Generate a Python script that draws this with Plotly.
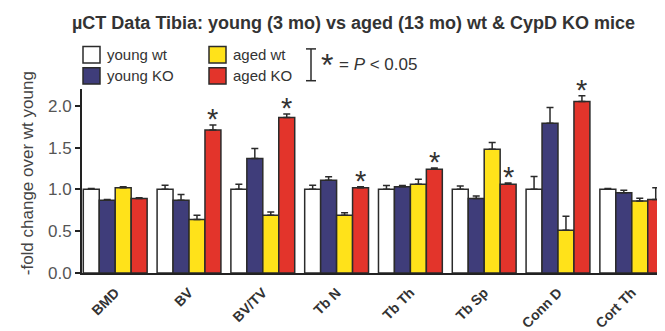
import plotly.graph_objects as go

# values (fold change over wt young, upper SEM only)
categories = ["BMD", "BV", "BV/TV", "Tb N", "Tb Th", "Tb Sp", "Conn D", "Cort Th"]
series_names = ["young wt", "young KO", "aged wt", "aged KO"]

young_wt = [1.00, 1.00, 1.00, 1.00, 1.00, 1.00, 1.00, 1.00]
young_ko = [0.87, 0.87, 1.37, 1.11, 1.03, 0.89, 1.79, 0.96]
aged_wt = [1.02, 0.64, 0.69, 0.69, 1.06, 1.48, 0.51, 0.86]
aged_ko = [0.89, 1.71, 1.86, 1.02, 1.24, 1.06, 2.05, 0.88]

young_wt_err = [0.01, 0.05, 0.06, 0.05, 0.045, 0.04, 0.155, 0.01]
young_ko_err = [0.01, 0.07, 0.12, 0.04, 0.015, 0.03, 0.19, 0.03]
aged_wt_err = [0.01, 0.05, 0.04, 0.03, 0.06, 0.08, 0.17, 0.035]
aged_ko_err = [0.01, 0.06, 0.04, 0.01, 0.015, 0.015, 0.07, 0.14]

# categories where aged KO differs (p < 0.05)
significant = ["BV", "BV/TV", "Tb N", "Tb Th", "Tb Sp", "Conn D"]

colours = ["#ffffff", "#3f3d7a", "#ffe21a", "#e3342b"]
FONT = "Liberation Sans, Arial, sans-serif"
TXT = "#333333"

# the page body has an 8px margin, so size the figure to fit the window
OFF = 8
W, H = 665 - OFF, 331 - OFF
L, R, T, B = 82 - OFF, 0, 88.6 - OFF, 331 - 279.5
PW, PH = W - L - R, H - T - B
XR = [-0.45, 7.45]
YR = [0, 2.2]
BARGAP = 0.135


# page pixel -> paper coords
def px(x):
    return (x - OFF - L) / PW


def py(y):
    return (H - B - (y - OFF)) / PH


fig = go.Figure()
all_vals = [young_wt, young_ko, aged_wt, aged_ko]
all_errs = [young_wt_err, young_ko_err, aged_wt_err, aged_ko_err]
for name, vals, errs, col in zip(series_names, all_vals, all_errs, colours):
    fig.add_trace(
        go.Bar(
            x=categories,
            y=vals,
            name=name,
            marker=dict(color=col, line=dict(color="#2b2b2b", width=1.5)),
            error_y=dict(
                type="data",
                symmetric=False,
                array=errs,
                arrayminus=[0] * len(errs),
                color="#2b2b2b",
                thickness=1.5,
                width=3.5,
            ),
            showlegend=False,
        )
    )

# asterisks above aged KO bars
unit = PW / (XR[1] - XR[0])
bar_w = unit * (1 - BARGAP) / 4
for c in significant:
    i = categories.index(c)
    fig.add_annotation(
        x=c, y=aged_ko[i] + aged_ko_err[i], xref="x", yref="y",
        text="*", showarrow=False, xshift=1.5 * bar_w, yshift=-12,
        yanchor="bottom", font=dict(family=FONT, size=29, color=TXT),
    )

# title
fig.add_annotation(
    x=px(353), y=py(20), xref="paper", yref="paper", showarrow=False,
    xanchor="center", yanchor="middle",
    text="<b>µCT Data Tibia: young (3 mo) vs aged (13 mo) wt &amp; CypD KO mice</b>",
    font=dict(family=FONT, size=18, color=TXT),
)

# y axis title
fig.add_annotation(
    x=px(27), y=py(176), xref="paper", yref="paper", showarrow=False,
    xanchor="center", yanchor="middle",
    text="-fold change over wt young", textangle=-90,
    font=dict(family=FONT, size=17, color="#444444"),
)

# hand-drawn legend
box = 17
legend_pos = [(83, 53), (83, 75), (209, 53), (209, 75)]
for (bx, by), name, col in zip(legend_pos, series_names, colours):
    fig.add_shape(
        type="rect", xref="paper", yref="paper",
        x0=px(bx), x1=px(bx + box), y0=py(by - box / 2), y1=py(by + box / 2),
        fillcolor=col, line=dict(color="#2b2b2b", width=1.5),
    )
    fig.add_annotation(
        x=px(bx + box + 5), y=py(by), xref="paper", yref="paper",
        xanchor="left", yanchor="middle", showarrow=False, text=name,
        font=dict(family=FONT, size=15, color=TXT),
    )

# bracket + significance key
for sh in [
    dict(x0=311, x1=311, y0=47, y1=80),
    dict(x0=306, x1=316, y0=47, y1=47),
    dict(x0=306, x1=316, y0=80, y1=80),
]:
    fig.add_shape(
        type="line", xref="paper", yref="paper",
        x0=px(sh["x0"]), x1=px(sh["x1"]), y0=py(sh["y0"]), y1=py(sh["y1"]),
        line=dict(color="#2b2b2b", width=1.5),
    )
fig.add_annotation(
    x=px(319), y=py(64), xref="paper", yref="paper",
    xanchor="left", yanchor="middle",
    showarrow=False, text="*",
    font=dict(family=FONT, size=32, color=TXT),
)
fig.add_annotation(
    x=px(337), y=py(63), xref="paper", yref="paper",
    xanchor="left", yanchor="middle",
    showarrow=False, text="= <i>P</i> &lt; 0.05",
    font=dict(family=FONT, size=17, color=TXT),
)

fig.update_layout(
    width=W,
    height=H,
    margin=dict(l=L, r=R, t=T, b=B, pad=0),
    barmode="group",
    bargap=BARGAP,
    bargroupgap=0,
    plot_bgcolor="white",
    paper_bgcolor="white",
    font=dict(family=FONT, color=TXT),
)
fig.update_xaxes(
    range=XR,
    showline=True, linecolor="#222222", linewidth=2,
    ticks="", showgrid=False, zeroline=False,
    tickangle=-45, ticklabelstandoff=4,
    tickfont=dict(family=FONT, size=14, color=TXT, weight="bold"),
)
fig.update_yaxes(
    range=YR,
    tickvals=[0, 0.5, 1.0, 1.5, 2.0],
    ticktext=["0.0", "0.5", "1.0", "1.5", "2.0"],
    showline=True, linecolor="#222222", linewidth=2,
    ticks="outside", ticklen=5, tickwidth=2, tickcolor="#222222",
    showgrid=False, zeroline=False,
    tickfont=dict(family=FONT, size=17, color="#555555"),
)

fig.write_html("out.html")
